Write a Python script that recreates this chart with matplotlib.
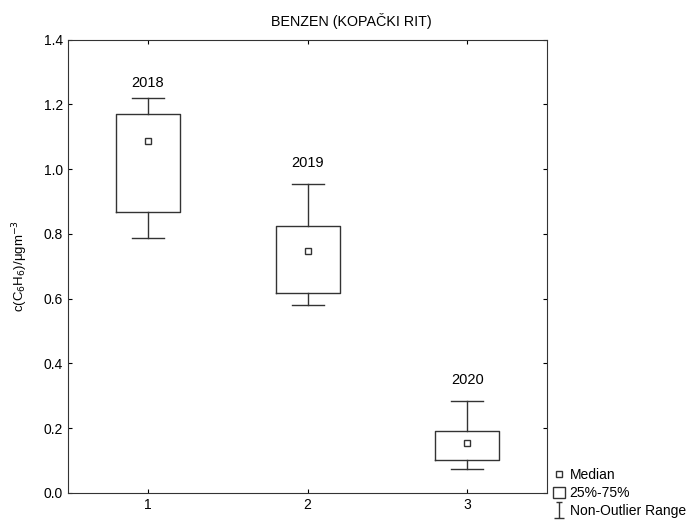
import matplotlib.pyplot as plt
from matplotlib.lines import Line2D
from matplotlib.patches import Patch
from matplotlib.path import Path

plt.rcParams['font.family'] = ['Liberation Sans', 'DejaVu Sans']

pozicije = [1, 2, 3]
godine = ['2018', '2019', '2020']
medijan = [1.088, 0.748, 0.155]
q1 = [0.868, 0.618, 0.102]
q3 = [1.171, 0.825, 0.192]
donji = [0.788, 0.581, 0.074]
gornji = [1.218, 0.955, 0.284]
natpis_y = [1.267, 1.020, 0.349]

stats = []
for i in range(3):
    stats.append(dict(med=medijan[i], q1=q1[i], q3=q3[i],
                      whislo=donji[i], whishi=gornji[i], label=str(pozicije[i])))

fig = plt.figure(figsize=(6.92, 5.2), dpi=100)
ax = fig.add_axes([0.098, 0.052, 0.693, 0.872])

boja = '#333333'
ax.bxp(stats, positions=pozicije, widths=0.4, capwidths=0.2, showfliers=False,
       boxprops=dict(color=boja, lw=1.0),
       whiskerprops=dict(color=boja, lw=1.0),
       capprops=dict(color=boja, lw=1.0),
       medianprops=dict(linestyle='none'))
ax.plot(pozicije, medijan, 's', ms=5, mfc='white', mec=boja, mew=1.0, ls='none')

for i in range(3):
    ax.text(pozicije[i], natpis_y[i], godine[i], ha='center', va='center', fontsize=10.5)

ax.set_xlim(0.5, 3.5)
ax.set_ylim(0, 1.4)
ax.set_yticks([0.0, 0.2, 0.4, 0.6, 0.8, 1.0, 1.2, 1.4])
ax.set_yticklabels(['0.0', '0.2', '0.4', '0.6', '0.8', '1.0', '1.2', '1.4'])
ax.tick_params(direction='in', length=3, top=True, right=True, labelsize=10, colors='black')
for s in ax.spines.values():
    s.set_color(boja)
fig.suptitle('BENZEN (KOPAČKI RIT)', x=0.508, y=0.975, va='top', fontsize=10.3)
ax.set_ylabel(r'c(C$_6$H$_6$)/μgm$^{-3}$', fontsize=9.5, labelpad=10)

# simbol za raspon (I s kapicama)
ibeam = Path([(-0.35, 1), (0.35, 1), (0, 1), (0, -1), (-0.6, -1), (0.6, -1)],
             [Path.MOVETO, Path.LINETO, Path.MOVETO, Path.LINETO, Path.MOVETO, Path.LINETO])

ruke = [Line2D([], [], marker='s', ms=4, mfc='white', mec=boja, ls='none'),
        Patch(facecolor='white', edgecolor=boja),
        Line2D([], [], marker=ibeam, ms=11, color=boja, mew=1.0, ls='none')]
fig.legend(ruke, ['Median', '25%-75%', 'Non-Outlier Range'], loc='lower left',
           bbox_to_anchor=(0.785, -0.015), frameon=False, fontsize=10,
           handlelength=0.9, handleheight=0.85, handletextpad=0.3,
           labelspacing=0.3, borderpad=0.2)

fig.savefig('out.png', dpi=100)
